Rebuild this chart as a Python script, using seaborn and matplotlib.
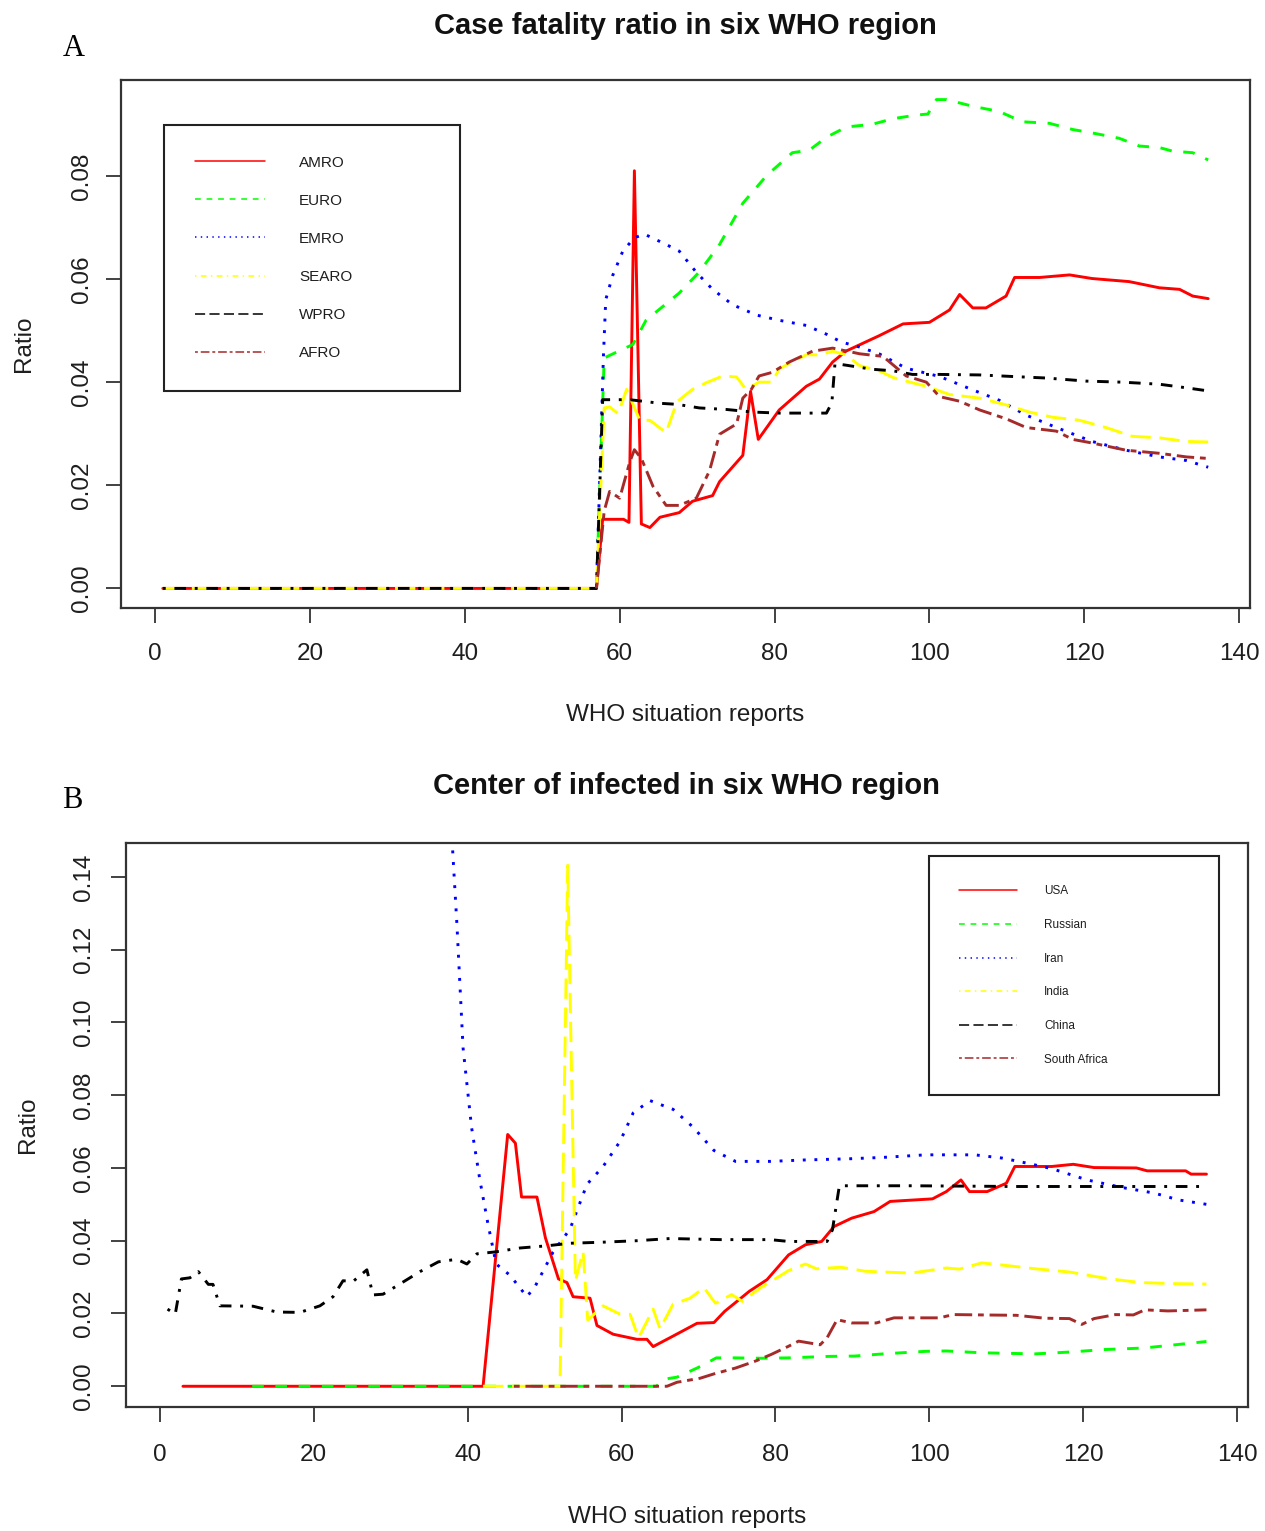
import matplotlib
matplotlib.use("Agg")
import matplotlib.pyplot as plt
import seaborn as sns
from matplotlib.lines import Line2D

# ---------------- Data: panel A (WHO regions, case fatality ratio) ----------------
amro_x = [1, 57, 57.8, 60.5, 61.2, 61.9, 62.8, 63.9, 65.2, 67.7, 69.4, 72.0, 72.9, 75.9, 76.9, 77.9,
          80.6, 84.1, 85.8, 87.5, 89.2, 93.5, 96.6, 100.0, 102.6, 103.9, 105.6, 107.3, 109.9, 111.0,
          114.2, 118.1, 121.0, 125.8, 129.7, 132.3, 134.0, 136.0]
amro_y = [0, 0, .0134, .0134, .0128, .081, .0125, .0118, .0138, .0147, .0169, .018, .0207, .0258, .0382,
          .0289, .0346, .0392, .0406, .0439, .046, .049, .0513, .0516, .054, .057, .0544, .0544, .0567,
          .0603, .0603, .0608, .0601, .0595, .0583, .058, .0567, .0562]

euro_x = [57, 58, 61.7, 63.4, 67.7, 70.3, 72.9, 75.9, 79, 82.3, 84.5, 86.7, 89.3, 92.6, 95.3, 98.3, 99.8,
          100.9, 102.2, 105.6, 109, 112, 115.5, 118.5, 121.5, 124.5, 127.1, 129.7, 131.4, 134, 136]
euro_y = [0, .0447, .0473, .052, .0573, .0614, .0667, .0747, .0801, .0845, .085, .0875, .0895, .09, .0911,
          .0918, .092, .0948, .0948, .0935, .0925, .0905, .0902, .089, .0882, .0873, .0858, .0855, .0848,
          .0845, .0831]

emro_x = [57, 57.9, 58.2, 59.1, 60.4, 61.9, 63.2, 66, 67.7, 69.9, 72, 74.6, 77.7, 80.6, 84.1, 86.7, 88.6,
          91, 93.5, 97, 101.3, 105.6, 109, 112.5, 116.4, 121, 125.4, 129.7, 133.2, 136]
emro_y = [0, .045, .056, .0607, .0654, .068, .0687, .0667, .0654, .0613, .058, .055, .053, .052, .051,
          .0493, .0478, .0468, .0455, .0427, .0411, .0385, .0365, .0336, .0312, .0285, .0268, .0255,
          .0248, .0235]

searo_x = [1, 57, 58, 58.7, 59.8, 60.9, 62.6, 63.9, 66, 67.4, 69.4, 71.2, 73.3, 75.1, 76.3, 78, 79.7,
           80.6, 84.1, 85.8, 87.5, 89.2, 91, 93.5, 95.3, 97, 99.6, 102.6, 106.5, 109.9, 112.9, 115.9,
           119.4, 122.8, 126.2, 129.7, 133.2, 136]
searo_y = [0, 0, .035, .0352, .0339, .0386, .0326, .0326, .0302, .0362, .0386, .0399, .0412, .041, .0386,
           .040, .040, .0426, .0453, .0453, .046, .0453, .0432, .0422, .0409, .0402, .0392, .0376, .0369,
           .0356, .0342, .0332, .0326, .0312, .0295, .0292, .0285, .0284]

wpro_x = [1, 57, 57.8, 61.3, 65.2, 67.4, 70.3, 73.8, 77.2, 80.6, 86.7, 87.4, 87.8, 89.2, 92.6, 95.3,
          97.8, 101.3, 106.5, 110.7, 115.1, 120.3, 124.9, 129.7, 133.2, 136]
wpro_y = [0, 0, .0366, .0366, .0359, .0357, .035, .0347, .0342, .034, .034, .036, .0436, .0433, .0425,
          .0422, .0415, .0415, .0414, .0411, .0408, .0402, .040, .0396, .0389, .0383]

afro_x = [57, 58, 58.7, 60, 61.3, 61.9, 62.8, 64.3, 66, 67.7, 69.9, 71.6, 72.9, 75.1, 75.9, 77, 78, 79.7,
          81.9, 84.9, 87.5, 91, 94, 97, 99.6, 101.3, 103.9, 106.5, 109.9, 112.5, 116.4, 118.5, 121,
          125.4, 129.7, 133.2, 136]
afro_y = [0, .015, .0188, .0175, .0245, .0269, .0252, .0198, .0161, .0161, .0175, .0228, .0299, .0319,
          .0369, .0386, .0412, .0419, .0439, .046, .0466, .0455, .045, .0412, .040, .0372, .0363, .0346,
          .0329, .0312, .0305, .0289, .0282, .0268, .0262, .0255, .0252]

# ---------------- Data: panel B (countries) ----------------
usa_x = [3, 42, 45.2, 46.2, 47, 49, 50.1, 51.8, 52.9, 53.7, 55.9, 56.8, 58.9, 62, 63.3, 64.1, 66.7, 69.8,
         72, 73.4, 76.6, 78.9, 81.7, 83.9, 86, 87.6, 89.9, 92.8, 94.9, 100.4, 102.2, 104.1, 105.2, 107.5,
         110, 111.1, 115.9, 118.7, 121.4, 126.9, 128.3, 133.3, 134, 136]
usa_y = [0, 0, .0692, .0668, .052, .052, .0408, .0295, .0285, .0246, .0242, .0167, .0143, .0129, .0129,
         .0109, .0138, .0173, .0175, .0206, .0261, .0293, .0361, .0389, .0398, .0439, .0462, .048, .0508,
         .0515, .0535, .0567, .0535, .0535, .0558, .0604, .0604, .061, .0601, .060, .0592, .0592, .0583,
         .0583]

rus_x = [12, 64.5, 65.7, 67.2, 69.8, 71.1, 72.3, 74.8, 78, 81.7, 86.7, 90.3, 94, 99.5, 102.2, 106.8,
         113.7, 118.2, 122.8, 127.8, 131.5, 136]
rus_y = [0, 0, .002, .0025, .005, .0064, .0078, .0078, .0077, .0078, .0082, .0083, .0089, .0096, .0097,
         .0092, .0089, .0094, .0101, .0105, .0113, .0123]

iran_x = [37.7, 38.6, 39.4, 40.5, 41.6, 42.6, 43.7, 45.5, 47.7, 48.8, 51.1, 53.3, 55.5, 57.6, 59.8, 61.5,
          63.7, 66.7, 69.3, 72, 74.8, 79.3, 83.9, 89.4, 94, 99.5, 105.9, 109.5, 112.7, 115.9, 120.5,
          125.1, 129.2, 132.4, 136]
iran_y = [.16, .127, .093, .0712, .0565, .045, .0336, .0305, .0246, .0276, .0369, .0432, .0555, .0604,
          .0673, .0751, .0785, .0761, .0712, .0648, .0618, .0618, .0622, .0625, .0629, .0636, .0636,
          .0627, .0613, .0598, .0567, .0546, .0531, .0512, .050]

india_x = [42, 52, 53, 54, 55, 55.6, 57.6, 59.8, 61.1, 62.2, 64.1, 65, 66.7, 68.9, 70.7, 72.2, 74.3, 75.7,
           78, 79.8, 81.7, 83.9, 85.3, 88.5, 91.7, 97.6, 102.2, 103.9, 106.8, 109.1, 113.7, 118.2, 122.8,
           127.4, 131.9, 136]
india_y = [0, 0, .1432, .029, .037, .0182, .0221, .0198, .0198, .0133, .0212, .0158, .0226, .0242, .0271,
           .0228, .0252, .0233, .027, .0293, .0318, .0336, .0323, .0327, .0316, .0311, .0325, .0322, .0339,
           .0334, .0323, .0314, .0297, .0285, .0282, .0281]

china_x = [1, 2, 2.8, 3.9, 5, 6.3, 6.9, 7.8, 12.1, 15.2, 18.2, 20.8, 22.5, 23.8, 25.1, 26.9, 27.7, 29,
           30.8, 33.8, 36.2, 38.6, 39.9, 41.2, 43.5, 46.8, 50.3, 53.3, 57.6, 62, 66.3, 72.8, 79.3, 81.7,
           86.7, 87.4, 88.3, 97.7, 111.4, 125.1, 136]
china_y = [.0212, .0198, .0295, .0298, .0315, .028, .028, .0221, .022, .0204, .0203, .0221, .0246, .029,
           .0288, .032, .0251, .0253, .0276, .0315, .0342, .0349, .0336, .0364, .0369, .038, .0386, .0393,
           .0396, .040, .0406, .0403, .0403, .0398, .0398, .043, .0551, .0551, .0549, .0549, .0549]

saf_x = [46, 65.9, 67.2, 70.2, 72, 74.8, 77.5, 79.4, 81.7, 83, 85.8, 86.7, 88, 89.9, 93.1, 95.4, 98.6,
         101.3, 103.1, 106.8, 111.3, 115, 118.2, 119.8, 121.4, 124.2, 126.5, 128, 131, 136]
saf_y = [0, 0, .0011, .0022, .0034, .005, .007, .0087, .011, .0124, .0114, .0133, .0183, .0174, .0174,
         .0188, .0188, .0188, .0197, .0196, .0195, .0187, .0186, .017, .0186, .0197, .0196, .021, .0207,
         .021]

labels_a = ["AMRO", "EURO", "EMRO", "SEARO", "WPRO", "AFRO"]
labels_b = ["USA", "Russian", "Iran", "India", "China", "South Africa"]
colors = ["#FF0000", "#00FF00", "#0000FF", "#FFFF00", "#000000", "#A52A2A"]
plot_lty = ["solid", "dashed", "dotted", "longdash", "dotdash", "twodash"]
legend_lty = ["solid", "dashed", "dotted", "dotdash", "longdash", "twodash"]
x_ticks = [0, 20, 40, 60, 80, 100, 120, 140]
y_ticks_a = [0.00, 0.02, 0.04, 0.06, 0.08]
y_ticks_b = [0.00, 0.02, 0.04, 0.06, 0.08, 0.10, 0.12, 0.14]

series_a = [(amro_x, amro_y), (euro_x, euro_y), (emro_x, emro_y),
            (searo_x, searo_y), (wpro_x, wpro_y), (afro_x, afro_y)]
series_b = [(usa_x, usa_y), (rus_x, rus_y), (iran_x, iran_y),
            (india_x, india_y), (china_x, china_y), (saf_x, saf_y)]

# ---------------- Styling ----------------
sns.set_style("white")
plt.rcParams["font.family"] = ["Liberation Sans", "DejaVu Sans"]
plt.rcParams["lines.scale_dashes"] = False
plt.rcParams["lines.solid_joinstyle"] = "round"
plt.rcParams["lines.dash_joinstyle"] = "round"
TXT = "#1e1e1e"


def dashes(kind, u):
    pat = {"dashed": (4, 4), "dotted": (1, 3), "dotdash": (1, 3, 4, 3),
           "longdash": (7, 3), "twodash": (2, 2, 6, 2)}
    if kind == "solid":
        return None
    return tuple(v * u for v in pat[kind])


fig = plt.figure(figsize=(12.65, 15.31), dpi=100)
axA = fig.add_axes([121 / 1265, 1 - 608 / 1531, 1129 / 1265, 528 / 1531])
axB = fig.add_axes([126 / 1265, 1 - 1407 / 1531, 1122 / 1265, 564 / 1531])

U_PLOT = 2.09
LW_PLOT = 2.1
U_LEG = 1.04
LW_LEG = 1.1


def draw(ax, series):
    for (xs, ys), col, lt in zip(series, colors, plot_lty):
        sns.lineplot(x=xs, y=ys, ax=ax, color=col, linewidth=LW_PLOT,
                     estimator=None, sort=False, legend=False)
        ln = ax.lines[-1]
        d = dashes(lt, U_PLOT)
        if d is None:
            ln.set_linestyle("-")
        else:
            ln.set_dashes(d)


def setup(ax, yticks, ylim, xpad, ypad, xl_y, yl_x):
    ax.set_xlim(-4.4, 141.4)
    ax.set_ylim(*ylim)
    ax.set_xticks(x_ticks)
    ax.set_xticklabels([str(v) for v in x_ticks])
    ax.set_yticks(yticks)
    ax.set_yticklabels([f"{v:.2f}" for v in yticks], rotation=90, va="center")
    ax.tick_params(axis="both", direction="out", length=10.5, width=1.3, colors="#333333",
                   labelsize=17.5, labelcolor=TXT, bottom=True, left=True)
    ax.tick_params(axis="x", pad=xpad)
    ax.tick_params(axis="y", pad=ypad)
    for s in ax.spines.values():
        s.set_visible(True)
        s.set_color("#333333")
        s.set_linewidth(1.6)
    ax.set_xlabel("WHO situation reports", fontsize=17.5, color=TXT, va="center")
    ax.xaxis.set_label_coords(0.5, xl_y)
    ax.set_ylabel("Ratio", fontsize=17.5, color=TXT, va="center")
    ax.yaxis.set_label_coords(yl_x, 0.5)
    ax.grid(False)


def add_legend(ax, labels, bbox, fs, bp, ls, hl, htp):
    handles = []
    for col, lt in zip(colors, legend_lty):
        d = dashes(lt, U_LEG)
        if d is None:
            h = Line2D([], [], color=col, lw=LW_LEG, linestyle="-")
        else:
            h = Line2D([], [], color=col, lw=LW_LEG, dashes=d)
        handles.append(h)
    leg = ax.legend(handles, labels, loc="upper left", bbox_to_anchor=bbox, mode="expand",
                    borderaxespad=0, borderpad=bp, labelspacing=ls, handlelength=hl,
                    handletextpad=htp, fontsize=fs, frameon=True, fancybox=False,
                    framealpha=1, edgecolor="#222222", labelcolor=TXT)
    leg.get_frame().set_linewidth(1.5)
    return leg


draw(axA, series_a)
draw(axB, series_b)

setup(axA, y_ticks_a, (-0.0038, 0.0986), 15, 10, -0.2027, -0.0856)
setup(axB, y_ticks_b, (-0.0057, 0.1493), 16, 11.5, -0.195, -0.087)

add_legend(axA, labels_a, (0.0381, 0.4129, 0.2622, 0.5019), 11, 2.0, 1.58, 4.63, 2.2)
add_legend(axB, labels_b, (0.7157, 0.5567, 0.2585, 0.4203), 8.5, 2.5, 1.83, 4.94, 2.3)

fig.text(685 / 1265, 1 - 26 / 1531, "Case fatality ratio in six WHO region", ha="center",
         va="center", fontsize=21, fontweight="bold", color="#111111")
fig.text(686 / 1265, 1 - 786 / 1531, "Center of infected in six WHO region", ha="center",
         va="center", fontsize=21, fontweight="bold", color="#111111")
fig.text(74 / 1265, 1 - 49 / 1531, "A", ha="center", va="center", fontsize=22,
         family=["Liberation Serif", "DejaVu Serif"], color="#000000")
fig.text(72.5 / 1265, 1 - 800 / 1531, "B", ha="center", va="center", fontsize=22,
         family=["Liberation Serif", "DejaVu Serif"], color="#000000")

fig.savefig("out.png", dpi=100, facecolor="white")
